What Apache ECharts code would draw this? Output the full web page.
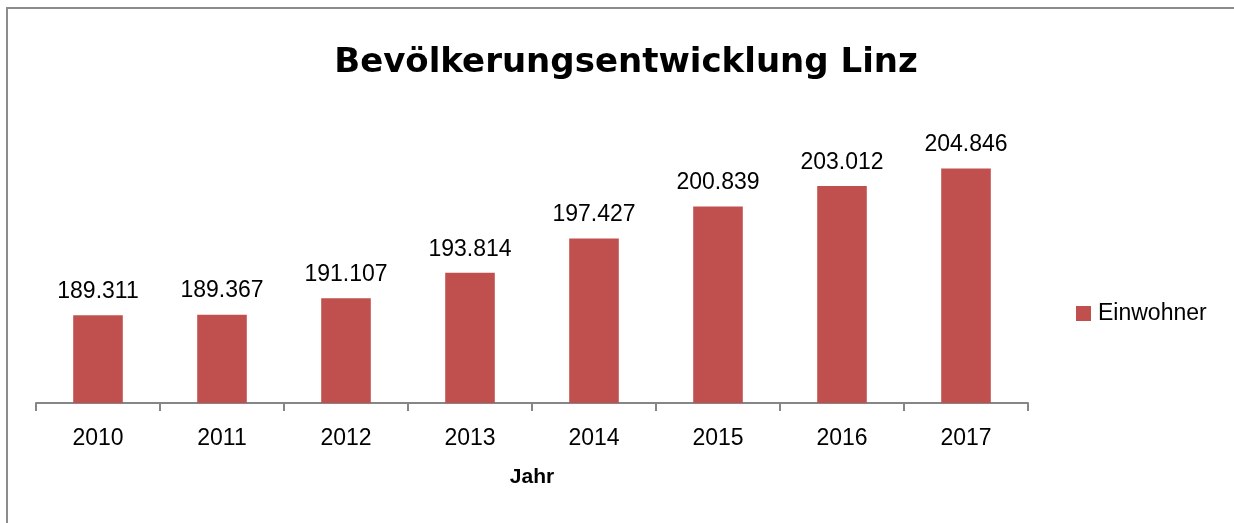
<!DOCTYPE html>
<html>
<head>
<meta charset="utf-8">
<script src="https://cdn.jsdelivr.net/npm/echarts@6/dist/echarts.min.js"></script>
<style>
  html, body { margin: 0; padding: 0; background: #fff; }
  .frame {
    position: absolute; left: 6px; top: 7px; width: 1240px; height: 530px;
    border-left: 2px solid #8c8c8c; border-top: 2px solid #8c8c8c;
  }
  #chart { position: absolute; left: 0; top: 0; width: 1234px; height: 523px; }
</style>
</head>
<body>
<div class="frame"></div>
<div id="chart"></div>
<script>
// Einwohner Linz je Jahr
const years = ['2010', '2011', '2012', '2013', '2014', '2015', '2016', '2017'];
const einwohner = [189311, 189367, 191107, 193814, 197427, 200839, 203012, 204846];

// deutsche Tausenderpunkte
const fmt = v => String(v).replace(/\B(?=(\d{3})+(?!\d))/g, '.');

const chart = echarts.init(document.getElementById('chart'), null, { renderer: 'canvas' });

chart.setOption({
  backgroundColor: 'transparent',
  animation: false,
  title: {
    text: 'Bevölkerungsentwicklung Linz',
    left: 621, top: 41, textAlign: 'center',
    textStyle: { fontFamily: 'DejaVu Sans', fontWeight: 'bold', fontSize: 34, color: '#000' },
  },
  legend: {
    left: 1071, top: 297,
    itemWidth: 15, itemHeight: 15, itemGap: 7,
    icon: 'rect',
    textStyle: { fontFamily: 'Liberation Sans', fontSize: 23, color: '#000', padding: [0, 0, 0, 2] },
    data: ['Einwohner'],
  },
  grid: { left: 36, right: 206, top: 120, bottom: 120 },
  xAxis: {
    type: 'category', data: years,
    name: 'Jahr', nameLocation: 'middle', nameGap: 64,
    nameTextStyle: { fontFamily: 'Liberation Sans', fontWeight: 'bold', fontSize: 21, color: '#000' },
    axisLine: { lineStyle: { color: '#868686', width: 2 } },
    axisTick: { show: true, alignWithLabel: false, length: 8, lineStyle: { color: '#868686', width: 2 } },
    axisLabel: { margin: 24, fontFamily: 'Liberation Sans', fontSize: 23, color: '#000' },
  },
  yAxis: {
    type: 'value', min: 180000, max: 210000, show: false,
    splitLine: { show: false },
  },
  series: [{
    name: 'Einwohner', type: 'bar', data: einwohner,
    barCategoryGap: '60%',
    itemStyle: { color: '#C0504D' },
    label: {
      show: true, position: 'top', distance: 12,
      fontFamily: 'Liberation Sans', fontSize: 23, color: '#000',
      formatter: p => fmt(p.value),
    },
  }],
});
</script>
</body>
</html>
